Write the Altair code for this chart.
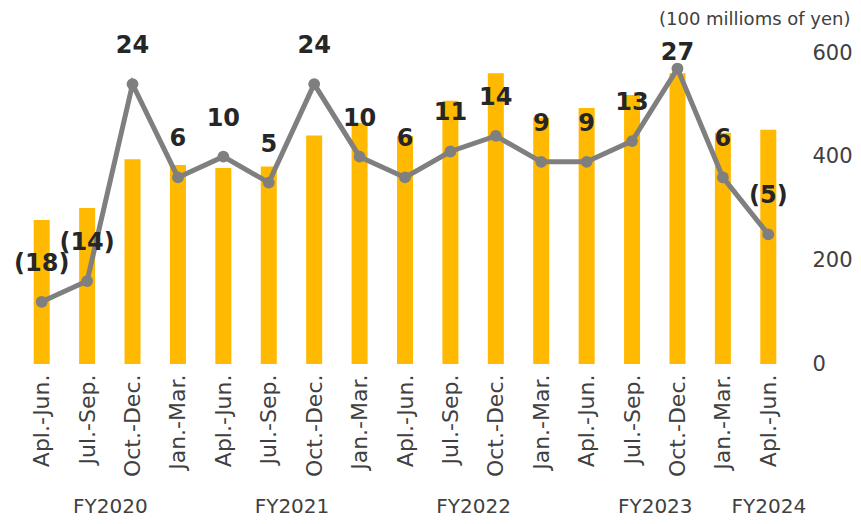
import json
import altair as alt
import pandas as pd

quarters = ["Apl.-Jun.", "Jul.-Sep.", "Oct.-Dec.", "Jan.-Mar.",
            "Apl.-Jun.", "Jul.-Sep.", "Oct.-Dec.", "Jan.-Mar.",
            "Apl.-Jun.", "Jul.-Sep.", "Oct.-Dec.", "Jan.-Mar.",
            "Apl.-Jun.", "Jul.-Sep.", "Oct.-Dec.", "Jan.-Mar.",
            "Apl.-Jun."]
fiscal_years = ["FY2020"] * 4 + ["FY2021"] * 4 + ["FY2022"] * 4 + ["FY2023"] * 4 + ["FY2024"]
sales = [278, 301, 395, 384, 378, 381, 441, 465, 440, 508, 561, 475, 494, 519, 561, 446, 452]
profit = [-18, -14, 24, 6, 10, 5, 24, 10, 6, 11, 14, 9, 9, 13, 27, 6, -5]
sales_ticks = [0, 200, 400, 600]
unit_label = "(100 millioms of yen)"

df = pd.DataFrame({
    "idx": list(range(len(quarters))),
    "quarter": quarters,
    "fy": fiscal_years,
    "sales": sales,
    "profit": profit,
})

# FY group centres
fy_names = []
fy_pos = []
for fy in dict.fromkeys(fiscal_years):
    ids = [i for i, f in enumerate(fiscal_years) if f == fy]
    fy_names.append(fy)
    fy_pos.append(sum(ids) / len(ids))

q_expr = json.dumps(quarters) + "[datum.value]"
fy_expr = ""
for i, (n, p) in enumerate(zip(fy_names, fy_pos)):
    if i < len(fy_names) - 1:
        fy_expr += f"datum.value < {p + 0.01} ? '{n}' : "
    else:
        fy_expr += f"'{n}'"

FONT = "DejaVu Sans"
AX = "#404040"
xscale = alt.Scale(domain=[-0.5, len(quarters) - 0.5], nice=False, zero=False, padding=0)

base = alt.Chart(df)

bars = base.mark_bar(color="#FFB900", size=16).encode(
    x=alt.X("idx:Q", scale=xscale,
            axis=alt.Axis(orient="bottom", values=list(range(len(quarters))), labelExpr=q_expr,
                          labelAngle=270, labelFontSize=22, labelFont=FONT,
                          labelColor=AX, labelPadding=10, ticks=False,
                          domain=False, grid=False, labelOverlap=False,
                          labelFlush=False, title=None)),
    y=alt.Y("sales:Q", scale=alt.Scale(domain=[0, 600], nice=False),
            axis=alt.Axis(orient="right", values=sales_ticks, grid=False,
                          ticks=False, domain=False, labelFontSize=21,
                          labelFont=FONT, labelColor=AX, labelPadding=21,
                          title=unit_label, titleAngle=0, titleAlign="right",
                          titleBaseline="middle", titleX=59, titleY=-34,
                          titleFontSize=18, titleFont=FONT,
                          titleFontWeight="normal", titleColor=AX)),
)

yline = alt.Scale(domain=[-30, 30], nice=False)

line = base.mark_line(color="#7F7F7F", strokeWidth=5,
                      point=alt.OverlayMarkDef(color="#7F7F7F", size=140, filled=True, opacity=1)).encode(
    x=alt.X("idx:Q", scale=xscale,
            axis=alt.Axis(orient="bottom", values=fy_pos, labelExpr=fy_expr, labelAngle=0,
                          labelFontSize=20, labelFont=FONT, labelColor=AX,
                          labelPadding=132, ticks=False, domain=False,
                          grid=False, labelOverlap=False, labelFlush=False,
                          title=None)),
    y=alt.Y("profit:Q", scale=yline, axis=None),
)

lab = base.transform_calculate(
    lbl="datum.profit < 0 ? '(' + abs(datum.profit) + ')' : '' + datum.profit"
)

labels = lab.transform_filter("datum.profit < 27").mark_text(
    font=FONT, fontSize=24, fontWeight="bold", color="#262626", dy=-38
).encode(x=alt.X("idx:Q", scale=xscale), y=alt.Y("profit:Q", scale=yline), text="lbl:N")

labels_top = lab.transform_filter("datum.profit >= 27").mark_text(
    font=FONT, fontSize=24, fontWeight="bold", color="#262626", dy=-16
).encode(x=alt.X("idx:Q", scale=xscale), y=alt.Y("profit:Q", scale=yline), text="lbl:N")

lineg = alt.layer(line, labels, labels_top)

chart = alt.layer(bars, lineg).resolve_scale(y="independent").resolve_axis(
    x="independent", y="independent"
).properties(
    width=772, height=311,
    background="white",
    autosize=alt.AutoSizeParams(type="none"),
    padding={"left": 11, "top": 45, "right": 62, "bottom": 152},
).configure_view(strokeWidth=0)

chart.save("out.html", embed_options={"renderer": "svg", "actions": False})
